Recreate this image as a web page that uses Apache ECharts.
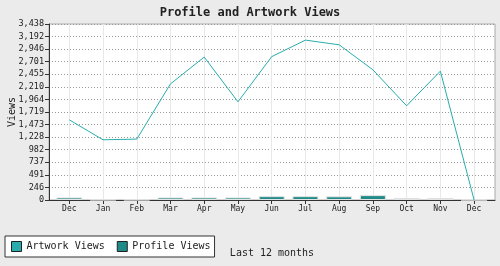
<!DOCTYPE html>
<html>
<head>
<meta charset="utf-8">
<script src="https://cdn.jsdelivr.net/npm/echarts@6/dist/echarts.min.js"></script>
<style>
html,body{margin:0;padding:0;background:#ebebeb;}
#chart{width:500px;height:266px;}
</style>
</head>
<body>
<div id="chart"></div>
<script>
const months = ['Dec','Jan','Feb','Mar','Apr','May','Jun','Jul','Aug','Sep','Oct','Nov','Dec'];
const artworkViews = [1566, 1176, 1189, 2269, 2791, 1918, 2800, 3123, 3031, 2543, 1840, 2517, 0];
const profileViews = [50, 4, 4, 50, 50, 50, 75, 75, 72, 95, 40, 40, 0];
const yMax = 3437.56;
const ySteps = 14;

const FONT = 'DejaVu Sans Mono';
const idx = months.map((m, i) => i);

const chart = echarts.init(document.getElementById('chart'), null, {renderer: 'canvas'});
chart.setOption({
  backgroundColor: '#ebebeb',
  animation: false,
  textStyle: {fontFamily: FONT},
  title: {
    text: 'Profile and Artwork Views',
    left: 'center',
    top: 2,
    textStyle: {fontFamily: FONT, fontSize: 12, fontWeight: 'bold', color: '#222'}
  },
  legend: {
    left: 5,
    top: 236,
    orient: 'horizontal',
    itemWidth: 10,
    itemHeight: 10,
    itemGap: 12,
    padding: [5, 4, 5, 6],
    borderColor: '#333',
    borderWidth: 1,
    borderRadius: 0,
    backgroundColor: '#fff',
    textStyle: {fontFamily: FONT, fontSize: 10, color: '#222'},
    data: [
      {name: 'Artwork Views', icon: 'rect', itemStyle: {color: '#2aacac', borderColor: '#222', borderWidth: 1}},
      {name: 'Profile Views', icon: 'rect', itemStyle: {color: '#1f8a88', borderColor: '#222', borderWidth: 1}}
    ]
  },
  grid: {
    left: 49, right: 5, top: 24, bottom: 66,
    containLabel: false,
    outerBoundsMode: 'none',
    show: true, backgroundColor: '#fff', borderColor: '#aaa', borderWidth: 1
  },
  xAxis: {
    type: 'value',
    min: -0.602,
    max: 12.62,
    name: 'Last 12 months',
    nameLocation: 'middle',
    nameGap: 48,
    nameMoveOverlap: false,
    nameTextStyle: {fontFamily: FONT, fontSize: 10, color: '#222'},
    axisLine: {show: true, onZero: false, lineStyle: {color: '#333', width: 1}},
    axisTick: {show: true, length: 4, lineStyle: {color: '#333'}, customValues: idx},
    axisLabel: {
      customValues: idx,
      fontFamily: FONT, fontSize: 8, color: '#222', margin: 5,
      formatter: v => months[Math.round(v)]
    },
    splitLine: {show: true, lineStyle: {color: '#e8e8e8', width: 1, type: 'solid'}}
  },
  yAxis: {
    type: 'value',
    min: 0,
    max: yMax,
    interval: yMax / ySteps,
    name: 'Views',
    nameLocation: 'middle',
    nameGap: 32,
    nameMoveOverlap: false,
    nameTextStyle: {fontFamily: FONT, fontSize: 10, color: '#222'},
    axisLine: {show: true, onZero: false, lineStyle: {color: '#333', width: 1}},
    axisTick: {show: true, length: 4, lineStyle: {color: '#333'}},
    axisLabel: {
      fontFamily: FONT, fontSize: 8.5, color: '#222', margin: 5,
      formatter: v => Math.round(v).toLocaleString('en-US')
    },
    splitLine: {show: true, lineStyle: {color: '#999', width: 1, type: [1, 2]}}
  },
  series: [
    {
      name: 'Profile Views',
      type: 'bar',
      barWidth: 26,
      itemStyle: {color: '#1f8a88', borderColor: '#e4e4e4', borderWidth: 1},
      data: profileViews.map((v, i) => [i, v])
    },
    {
      name: 'Artwork Views',
      type: 'line',
      showSymbol: false,
      symbol: 'none',
      lineStyle: {color: '#2aacac', width: 1},
      itemStyle: {color: '#2aacac'},
      data: artworkViews.map((v, i) => [i, v])
    }
  ]
});
</script>
</body>
</html>
